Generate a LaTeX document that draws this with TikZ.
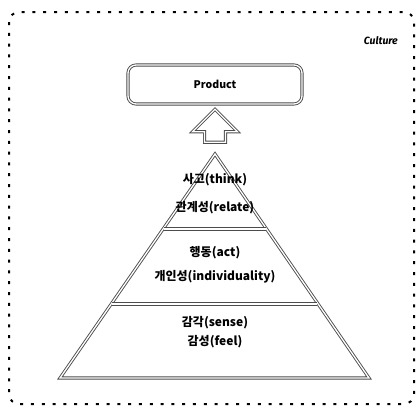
\documentclass[tikz,border=0pt]{standalone}
\usepackage{fontspec}
\setmainfont{Noto Sans CJK KR}
\newfontfamily\cultfont{Fira Sans}
\usetikzlibrary{positioning,calc,shapes.arrows}

\begin{document}
\begin{tikzpicture}[x=1pt,y=-1pt,
  sketch/.style={draw=black!70,double=white,double distance=1.3pt,line width=0.9pt},
  layer/.style={font=\bfseries\fontsize{12}{14}\selectfont}]
  \useasboundingbox (0,0) rectangle (417,408);
  % frame
  \draw[line width=2pt,dash pattern=on 3pt off 7.8pt,rounded corners=10pt] (9,12) rectangle (414,404);
  \node[anchor=east,inner sep=0pt,font=\cultfont\bfseries\itshape\fontsize{10.5}{12}\selectfont] (culture) at (398,41) {Culture};

  % Product
  \node[sketch,rounded corners=8pt,minimum width=174pt,minimum height=39pt,
    font=\bfseries\fontsize{10.5}{12}\selectfont] (product) at (215,84.5) {Product};

  % pyramid
  \coordinate (top) at (215,154);
  \coordinate (bl) at (60,378);
  \coordinate (br) at (369,378);
  \coordinate (l1) at (164,229);
  \coordinate (r1) at (266,229);
  \coordinate (l2) at (112,304);
  \coordinate (r2) at (317,304);
  \draw[sketch] (bl) -- (top) -- (br) -- cycle;
  \draw[sketch] (l1) -- (r1);
  \draw[sketch] (l2) -- (r2);

  \node[single arrow,sketch,rotate=90,inner xsep=0pt,inner ysep=10pt,
    single arrow head extend=12pt,minimum height=33pt] (up) at (215,131) {};

  \node[layer] (think) at (215,180) {사고(think)};
  \node[layer] (relate) at (215,208) {관계성(relate)};
  \node[layer] (act) at (215,253) {행동(act)};
  \node[layer] (indiv) at (215,277) {개인성(individuality)};
  \node[layer] (sense) at (215,323) {감각(sense)};
  \node[layer] (feel) at (215,342) {감성(feel)};
\end{tikzpicture}
\end{document}
